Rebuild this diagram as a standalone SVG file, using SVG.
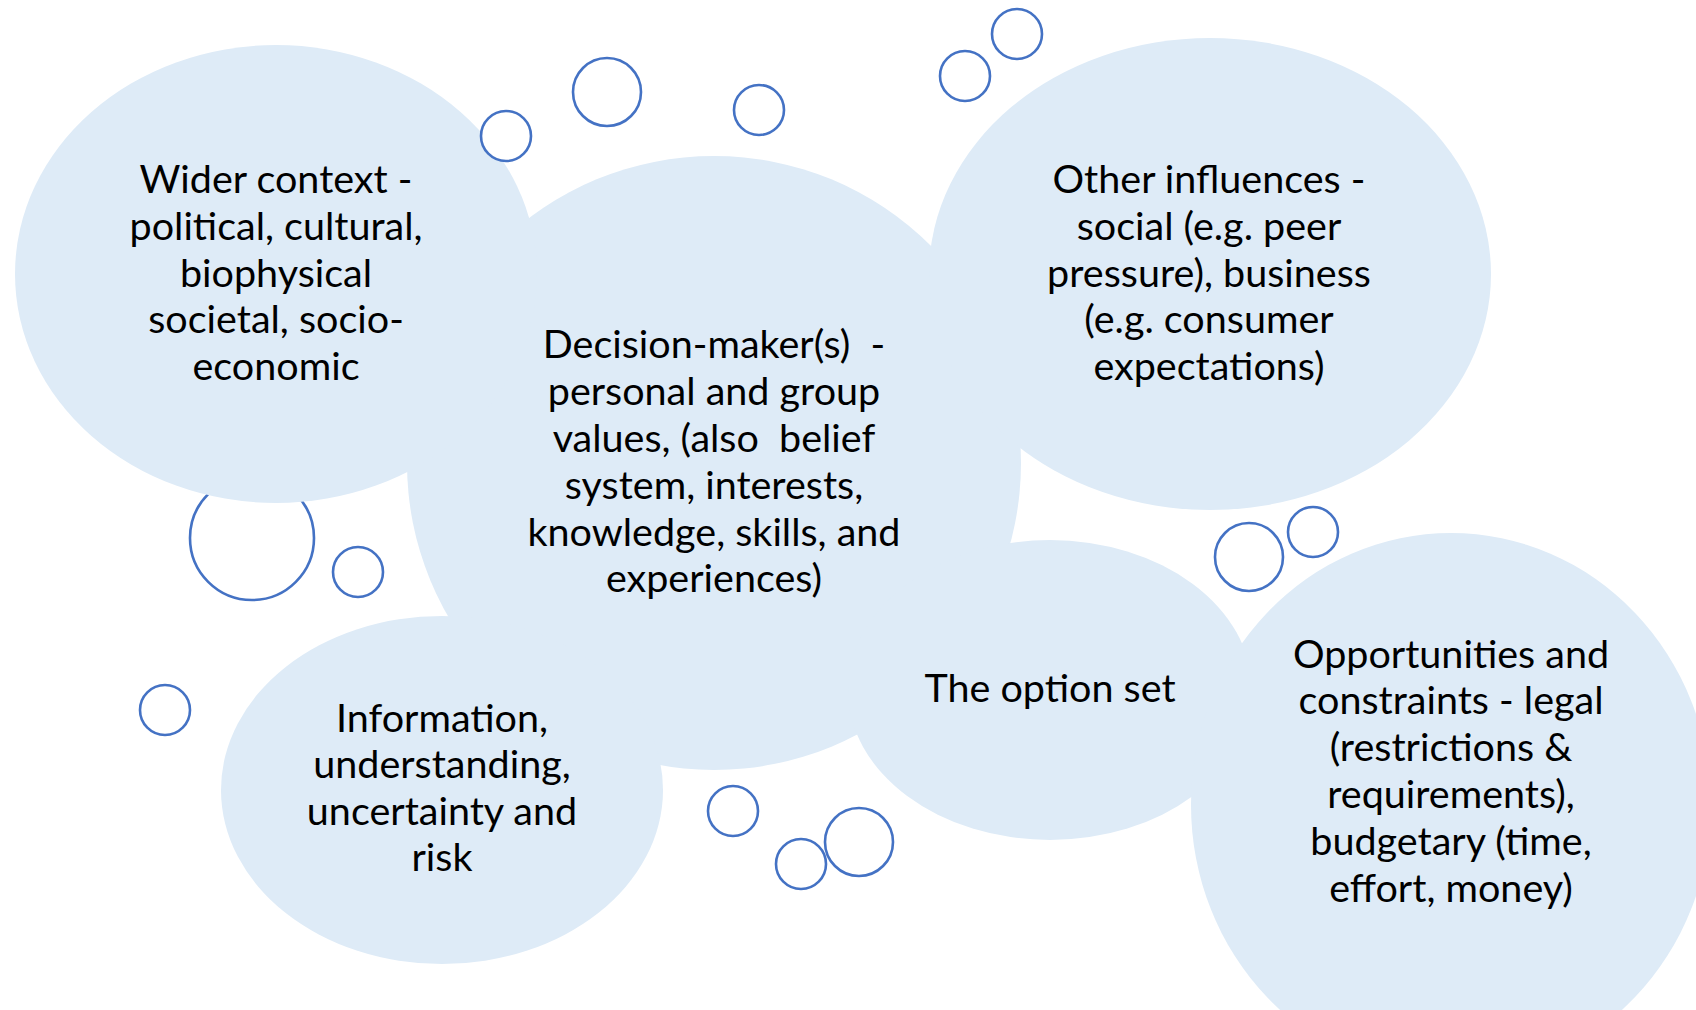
<svg xmlns="http://www.w3.org/2000/svg" width="1696" height="1010" viewBox="0 0 1696 1010">
<style>
.cloud{fill:#DEEBF7;stroke:none}
.bub{fill:#fff;stroke:#4472C4;stroke-width:2.6}
text{font-family:Lato,"Open Sans","Liberation Sans",sans-serif;font-size:39.5px;fill:#000;text-anchor:middle;white-space:pre}
</style>
<rect width="1696" height="1010" fill="#fff"/>
<g id="bubbles-back">
<circle class="bub" cx="252" cy="538" r="62"/>
</g>
<g id="shapes">
<g id="node-decision"><ellipse class="cloud" cx="714" cy="463" rx="307" ry="307"/></g>
<g id="node-wider-context"><ellipse class="cloud" cx="276" cy="274" rx="261" ry="229"/></g>
<g id="node-other-influences"><ellipse class="cloud" cx="1210" cy="274" rx="281" ry="236"/></g>
<g id="node-information"><ellipse class="cloud" cx="442" cy="790" rx="221" ry="174"/></g>
<g id="node-option-set"><ellipse class="cloud" cx="1050" cy="690" rx="202" ry="150"/></g>
<g id="node-opportunities"><ellipse class="cloud" cx="1451" cy="805" rx="260" ry="272"/></g>
</g>
<g id="bubbles">
<circle class="bub" cx="506" cy="136" r="25"/>
<circle class="bub" cx="607" cy="92" r="34"/>
<circle class="bub" cx="759" cy="110" r="25"/>
<circle class="bub" cx="965" cy="76" r="25"/>
<circle class="bub" cx="1017" cy="34" r="25"/>
<circle class="bub" cx="358" cy="572" r="25"/>
<circle class="bub" cx="165" cy="710" r="25"/>
<circle class="bub" cx="733" cy="811" r="25"/>
<circle class="bub" cx="801" cy="864" r="25"/>
<circle class="bub" cx="859" cy="842" r="34"/>
<circle class="bub" cx="1249" cy="557" r="34"/>
<circle class="bub" cx="1313" cy="532" r="25"/>
</g>
<g id="labels">
<g id="label-wider-context">
<text x="276" y="193">Wider context -</text>
<text x="276" y="240">political, cultural,</text>
<text x="276" y="287">biophysical</text>
<text x="276" y="333">societal, socio-</text>
<text x="276" y="380">economic</text>
</g>
<g id="label-decision">
<text x="714" y="358">Decision-maker(s)  -</text>
<text x="714" y="405">personal and group</text>
<text x="714" y="452">values, (also  belief</text>
<text x="714" y="499">system, interests,</text>
<text x="714" y="546">knowledge, skills, and</text>
<text x="714" y="592">experiences)</text>
</g>
<g id="label-other-influences">
<text x="1209" y="193">Other influences -</text>
<text x="1209" y="240">social (e.g. peer</text>
<text x="1209" y="287">pressure), business</text>
<text x="1209" y="333">(e.g. consumer</text>
<text x="1209" y="380">expectations)</text>
</g>
<g id="label-information">
<text x="442" y="732">Information,</text>
<text x="442" y="778">understanding,</text>
<text x="442" y="825">uncertainty and</text>
<text x="442" y="871">risk</text>
</g>
<g id="label-option-set">
<text x="1050" y="702">The option set</text>
</g>
<g id="label-opportunities">
<text x="1451" y="668">Opportunities and</text>
<text x="1451" y="714">constraints - legal</text>
<text x="1451" y="761">(restrictions &amp;</text>
<text x="1451" y="808">requirements),</text>
<text x="1451" y="855">budgetary (time,</text>
<text x="1451" y="902">effort, money)</text>
</g>
</g>
<g id="connectors"/>
</svg>
